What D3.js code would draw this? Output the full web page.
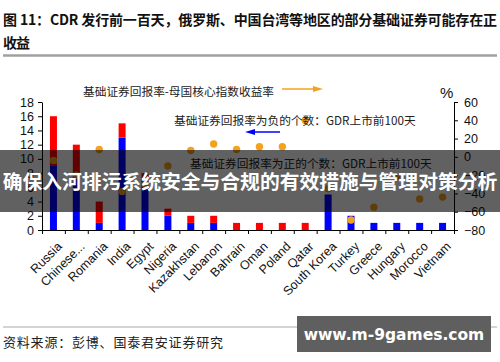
<!DOCTYPE html>
<html>
<head>
<meta charset="utf-8">
<script src="https://cdn.jsdelivr.net/npm/d3@7"></script>
<style>
  body { margin: 0; background: #fff; }
  svg { display: block; }
  .cjk { font-family: "Noto Sans CJK SC", sans-serif; }
  .tick text { font-family: "Liberation Sans", Arial, sans-serif; font-size: 12.5px; fill: #111; }
</style>
</head>
<body>
<div id="chart"></div>
<script>
// chart data
var categories = ["Russia", "Chinese...", "Romania", "India", "Egypt", "Nigeria", "Kazakhstan",
  "Lebanon", "Bahrain", "Oman", "Poland", "Qatar", "South Korea", "Turkey", "Greece",
  "Hungary", "Morocco", "Vietnam"];
var blueCount = [9, 8, 1, 13, 7, 2, 1, 1, 0, 0, 0, 0, 5, 2, 1, 1, 1, 1];
var redCount  = [7, 4, 3, 2, 1, 1, 1, 1, 1, 1, 1, 1, 0, 0, 0, 0, 0, 0];
var excessReturn = [-4, -20, 8, -38, -30, -10, 7, 14, 8, 11, 11, 40, -35, -69, -55, -22, -46, -44];
var leftTicks = [0, 2, 4, 6, 8, 10, 12, 14, 16, 18];
var rightTicks = [-80, -60, -40, -20, 0, 20, 40, 60];

var W = 500, H = 362;
var plot = {left: 42, right: 454, top: 102, bottom: 230};

var svg = d3.select("#chart").append("svg")
  .attr("width", W).attr("height", H);

// title
var title = svg.append("g").attr("class", "cjk").attr("font-weight", "bold").attr("fill", "#111");
title.append("text").attr("x", 3).attr("y", 25).attr("font-size", 14)
  .attr("textLength", 494).attr("lengthAdjust", "spacing")
  .text("图 11：CDR 发行前一百天，俄罗斯、中国台湾等地区的部分基础证券可能存在正");
title.append("text").attr("x", 3).attr("y", 48).attr("font-size", 14)
  .attr("textLength", 27).attr("lengthAdjust", "spacing")
  .text("收益");
svg.append("line").attr("x1", 3).attr("x2", 497).attr("y1", 55.5).attr("y2", 55.5)
  .attr("stroke", "#a0a0a0").attr("stroke-width", 2.5);

// scales
var x = d3.scaleBand().domain(categories).range([plot.left, plot.right]);
var xEdge = d3.scaleLinear().domain([0, categories.length]).range([plot.left, plot.right]);
var y = d3.scaleLinear().domain([0, 18]).range([plot.bottom, plot.top]);
var y2 = d3.scaleLinear().domain([-80, 60]).range([plot.bottom, plot.top]);

var barW = 7;
var rows = categories.map(function(c, i) {
  return {name: c, blue: blueCount[i], red: redCount[i], ret: excessReturn[i]};
});

// bars
svg.append("g").selectAll("rect.blue").data(rows).enter().append("rect")
  .attr("x", d => x(d.name) + x.bandwidth() / 2 - barW / 2)
  .attr("width", barW)
  .attr("y", d => y(d.blue))
  .attr("height", d => y(0) - y(d.blue))
  .attr("fill", "#0000ff");
svg.append("g").selectAll("rect.red").data(rows).enter().append("rect")
  .attr("x", d => x(d.name) + x.bandwidth() / 2 - barW / 2)
  .attr("width", barW)
  .attr("y", d => y(d.blue + d.red))
  .attr("height", d => y(d.blue) - y(d.blue + d.red))
  .attr("fill", "#ff0000");

// dots
svg.append("g").selectAll("circle").data(rows).enter().append("circle")
  .attr("cx", d => x(d.name) + x.bandwidth() / 2)
  .attr("cy", d => y2(d.ret))
  .attr("r", 3.7)
  .attr("fill", "#f4a21c");

// axes
svg.append("g")
  .attr("transform", "translate(" + plot.left + ",0)")
  .call(d3.axisLeft(y).tickValues(leftTicks).tickSize(4).tickSizeOuter(0).tickPadding(4));
svg.append("g")
  .attr("transform", "translate(" + plot.right + ",0)")
  .call(d3.axisRight(y2).tickValues(rightTicks).tickSize(4).tickSizeOuter(0).tickPadding(6));
svg.append("g")
  .attr("transform", "translate(0," + plot.bottom + ")")
  .call(d3.axisBottom(xEdge).tickValues(d3.range(categories.length + 1)).tickFormat("").tickSize(4).tickSizeOuter(0));

// rotated category labels
svg.append("g").selectAll("text").data(categories).enter().append("text")
  .attr("transform", d => "translate(" + (x(d) + x.bandwidth() / 2 + 3) + "," + (plot.bottom + 11) + ") rotate(-45)")
  .attr("text-anchor", "end")
  .attr("dy", "0.7em")
  .attr("font-family", "Liberation Sans, Arial, sans-serif")
  .attr("font-size", 12.5)
  .attr("fill", "#111")
  .text(d => d);

svg.selectAll(".domain, .tick line").attr("stroke", "#000");

// "%" unit
svg.append("text").attr("x", 440).attr("y", 98)
  .attr("font-family", "Liberation Sans, Arial, sans-serif").attr("font-size", 15)
  .attr("fill", "#111").text("%");

// legend notes and arrows
var notes = svg.append("g").attr("class", "cjk").attr("font-size", 11.7).attr("fill", "#222");
notes.append("text").attr("x", 83).attr("y", 96).text("基础证券回报率-母国核心指数收益率");
notes.append("text").attr("x", 174).attr("y", 125).text("基础证券回报率为负的个数：GDR上市前100天");
notes.append("text").attr("x", 190).attr("y", 168).text("基础证券回报率为正的个数：GDR上市前100天");

function arrow(x1, x2, yy, color) {
  var dir = x2 > x1 ? 1 : -1;
  svg.append("line").attr("x1", x1).attr("x2", x2 - dir * 8).attr("y1", yy).attr("y2", yy)
    .attr("stroke", color).attr("stroke-width", 1.5);
  svg.append("path")
    .attr("d", "M" + x2 + "," + yy + "L" + (x2 - dir * 10) + "," + (yy - 3) + "L" + (x2 - dir * 10) + "," + (yy + 3) + "Z")
    .attr("fill", color);
}
arrow(282, 323, 89, "#f4a21c");
arrow(280, 245, 132, "#0000ff");

// footer
svg.append("line").attr("x1", 3).attr("x2", 497).attr("y1", 327).attr("y2", 327)
  .attr("stroke", "#aaa").attr("stroke-width", 1);
svg.append("text").attr("class", "cjk").attr("x", 3).attr("y", 347)
  .attr("font-size", 13).attr("fill", "#222")
  .attr("textLength", 220).attr("lengthAdjust", "spacing")
  .text("资料来源：彭博、国泰君安证券研究");

// overlay banner
svg.append("rect").attr("x", 0).attr("y", 150).attr("width", W).attr("height", 62)
  .attr("fill", "rgba(0,0,0,0.62)");
svg.append("text").attr("class", "cjk").attr("x", 250).attr("y", 189)
  .attr("text-anchor", "middle").attr("font-size", 19.8).attr("font-weight", "bold")
  .attr("fill", "#fff")
  .text("确保入河排污系统安全与合规的有效措施与管理对策分析");

// watermark box
svg.append("rect").attr("x", 297).attr("y", 316).attr("width", 194).attr("height", 36)
  .attr("fill", "#5f5f5f");
svg.append("text").attr("x", 394).attr("y", 340).attr("text-anchor", "middle")
  .attr("font-family", "DejaVu Sans, sans-serif").attr("font-weight", "bold").attr("font-size", 15.5)
  .attr("fill", "#fff")
  .text("www.m-9games.com");
</script>
</body>
</html>
